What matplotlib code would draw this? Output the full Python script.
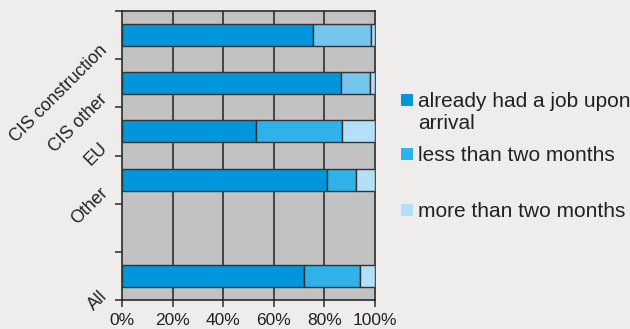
import numpy as np
import matplotlib
matplotlib.use('Agg')
import matplotlib.pyplot as plt
from matplotlib.patches import Rectangle
from matplotlib.transforms import blended_transform_factory

plt.rcParams['font.family'] = ['Liberation Sans', 'DejaVu Sans']

# categories, top to bottom (one empty slot between Other and All)
categories = ['CIS construction', 'CIS other', 'EU', 'Other', '', 'All']
job_on_arrival = [75.3, 86.6, 52.8, 81.2, 0, 71.8]
less_two_months = [23.0, 11.4, 34.3, 11.3, 0, 22.4]
more_two_months = [1.7, 2.0, 12.9, 7.5, 0, 5.8]
legend_labels = ['already had a job upon\narrival', 'less than two months', 'more than two months']
tick_pcts = [0, 20, 40, 60, 80, 100]

c_dark = '#0096dc'
c_mid = '#2fb1ea'
c_mid_cis = '#76c5ef'
c_light = '#b3e0f7'
bg = '#efedeb'
edge = '#333333'

fig = plt.figure(figsize=(6.3, 3.29), dpi=100, facecolor=bg)
ax = fig.add_axes([122 / 630, 1 - 300 / 329, 253 / 630, 289 / 329])
ax.set_facecolor('#c2c2c2')

y = np.arange(len(categories))
ja = np.array(job_on_arrival)
lt = np.array(less_two_months)
mt = np.array(more_two_months)
mid_colors = [c_mid_cis, c_mid_cis, c_mid, c_mid, c_mid, c_mid]
h = 0.46
kw = dict(height=h, edgecolor=edge, linewidth=1.0, zorder=3)
has = ja > 0
ax.barh(y[has], ja[has], color=c_dark, **kw)
ax.barh(y[has], lt[has], left=ja[has], color=np.array(mid_colors)[has], **kw)
ax.barh(y[has], mt[has], left=(ja + lt)[has], color=c_light, **kw)

ax.set_xlim(0, 100)
ax.set_ylim(len(categories) - 0.5, -0.5)
for p in tick_pcts[1:-1]:
    ax.axvline(p, color='#3a3a3a', lw=1.3, zorder=1)

for s in ax.spines.values():
    s.set_color('#2a2a2a')
    s.set_linewidth(1.2)

ax.set_xticks(tick_pcts)
ax.set_xticklabels([f'{p}%' for p in tick_pcts], fontsize=12.5, color='#222222')
ax.set_yticks(np.arange(len(categories) + 1) - 0.5)
ax.set_yticklabels([])
ax.tick_params(axis='both', direction='out', length=5, width=1.1, color='#2a2a2a')
ax.tick_params(axis='x', pad=4.5)

tr = blended_transform_factory(fig.transFigure, ax.transData)
label_offsets = [0.26, 0.28, 0.29, 0.23, 0, 0.37]
for i, lab in enumerate(categories):
    if not lab:
        continue
    ax.text(105 / 630, i + label_offsets[i], lab, transform=tr, rotation=45,
            rotation_mode='anchor', ha='right', va='center', fontsize=12.8,
            color='#222222', clip_on=False)

# legend drawn by hand
leg_colors = [c_dark, c_mid, c_light]
leg_y = [100, 154, 210]
for col, lab, yy in zip(leg_colors, legend_labels, leg_y):
    fig.patches.append(Rectangle((401 / 630, 1 - (yy + 6) / 329), 12 / 630, 12 / 329,
                                 transform=fig.transFigure, facecolor=col,
                                 edgecolor='none'))
    fig.text(418 / 630, 1 - (yy - 8) / 329, lab, fontsize=15, color='#222222',
             va='top', ha='left', linespacing=1.2)

fig.savefig('out.png', dpi=100, facecolor=bg)
